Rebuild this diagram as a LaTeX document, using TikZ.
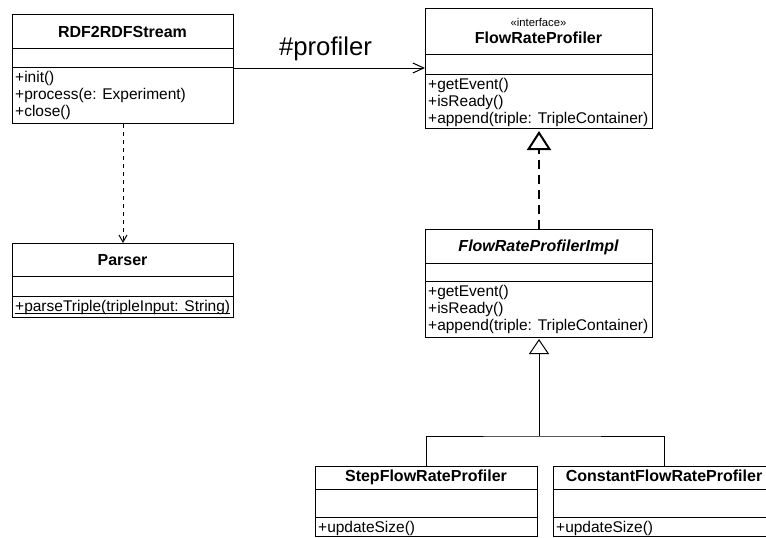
\documentclass[tikz,border=0pt]{standalone}
\usepackage{fontspec}
\setmainfont{Liberation Sans}
\usetikzlibrary{arrows.meta}
\begin{document}
\begin{tikzpicture}[x=1pt,y=-1pt,
 classbox/.style={draw, line width=1pt, rectangle, inner sep=0pt, anchor=north west},
 cname/.style={font=\fontsize{16}{19}\selectfont\bfseries, inner sep=0pt, anchor=base},
 cmeth/.style={font=\fontsize{15.5}{18}\selectfont, inner sep=0pt, anchor=base west},
 stereo/.style={font=\fontsize{11.3}{13}\selectfont, inner sep=0pt, anchor=base},
 sep/.style={line width=1pt},
 assoc/.style={line width=1pt, -{Straight Barb[length=11pt,width=10pt]}},
 dep/.style={line width=1pt, dash pattern=on 4pt off 4pt, -{Straight Barb[length=7pt,width=8pt]}},
 real/.style={line width=2pt, dash pattern=on 9pt off 6pt, -{Triangle[open,length=19pt,width=24pt]}, shorten >=2pt},
 gen/.style={line width=1pt, -{Triangle[open,length=15pt,width=20pt]}, shorten >=1pt},
]
\useasboundingbox (0,0) rectangle (766,538);
\clip (0,0) rectangle (766,538);

% RDF2RDFStream
\node[classbox, minimum width=221pt, minimum height=109pt] (rdf) at (12,14) {};
\draw[sep] (rdf.west |- 0,48) -- (rdf.east |- 0,48);
\draw[sep] (rdf.west |- 0,67) -- (rdf.east |- 0,67);
\node[cname] (rdfn) at (122.5,37.5) {RDF2RDFStream};
\node[cmeth] (rdfm1) at (15,82.5) {+init()};
\node[cmeth] (rdfm2) at (15,99.5) {+process(e: Experiment)};
\node[cmeth] (rdfm3) at (15,116.5) {+close()};

% Parser
\node[classbox, minimum width=221pt, minimum height=74pt] (parser) at (12,243) {};
\draw[sep] (parser.west |- 0,276) -- (parser.east |- 0,276);
\draw[sep] (parser.west |- 0,296) -- (parser.east |- 0,296);
\node[cname] (parsern) at (122.5,265) {Parser};
\node[cmeth] (parserm1) at (15,311) {+parseTriple(tripleInput: String)};
\draw[line width=0.9pt] ([yshift=-2.5pt]parserm1.base west) -- ([yshift=-2.5pt]parserm1.base east);

% FlowRateProfiler
\node[classbox, minimum width=227pt, minimum height=120pt] (frp) at (425,8) {};
\draw[sep] (frp.west |- 0,54) -- (frp.east |- 0,54);
\draw[sep] (frp.west |- 0,74) -- (frp.east |- 0,74);
\node[stereo] (frps) at (538.5,26) {«interface»};
\node[cname] (frpn) at (538.5,43.5) {FlowRateProfiler};
\node[cmeth] (frpm1) at (428,89.5) {+getEvent()};
\node[cmeth] (frpm2) at (428,106.5) {+isReady()};
\node[cmeth] (frpm3) at (428,123.5) {+append(triple: TripleContainer)};

% FlowRateProfilerImpl
\node[classbox, minimum width=227pt, minimum height=108pt] (impl) at (425,229) {};
\draw[sep] (impl.west |- 0,263) -- (impl.east |- 0,263);
\draw[sep] (impl.west |- 0,281) -- (impl.east |- 0,281);
\node[cname, font=\fontsize{16}{19}\selectfont\bfseries\itshape] (impln) at (538.5,251.5) {FlowRateProfilerImpl};
\node[cmeth] (implm1) at (428,296.5) {+getEvent()};
\node[cmeth] (implm2) at (428,313.5) {+isReady()};
\node[cmeth] (implm3) at (428,330.5) {+append(triple: TripleContainer)};

% StepFlowRateProfiler
\node[classbox, minimum width=222pt, minimum height=70pt] (step) at (315,466) {};
\draw[sep] (step.west |- 0,489) -- (step.east |- 0,489);
\draw[sep] (step.west |- 0,517) -- (step.east |- 0,517);
\node[cname] (stepn) at (426,481) {StepFlowRateProfiler};
\node[cmeth] (stepm1) at (318,532.5) {+updateSize()};

% ConstantFlowRateProfiler
\node[classbox, minimum width=222pt, minimum height=70pt] (const) at (553,466) {};
\draw[sep] (const.west |- 0,489) -- (const.east |- 0,489);
\draw[sep] (const.west |- 0,517) -- (const.east |- 0,517);
\node[cname] (constn) at (664,481) {ConstantFlowRateProfiler};
\node[cmeth] (constm1) at (556,532.5) {+updateSize()};

% connectors
\node[font=\fontsize{25.7}{30}\selectfont, inner sep=0pt, anchor=base] (lbl) at (325.5,55) {\#profiler};
\draw[assoc] (rdf.east |- 0,68) -- (frp.west |- 0,68);
\draw[dep] (rdf.south) -- (parser.north);
\draw[real] (impl.north) -- (frp.south);
\coordinate (gj) at (impl.south |- 0,436);
\draw[gen] (gj) -- (impl.south);
\draw[line width=1pt] (step.north) |- (gj) -| (const.north);
\end{tikzpicture}
\end{document}
